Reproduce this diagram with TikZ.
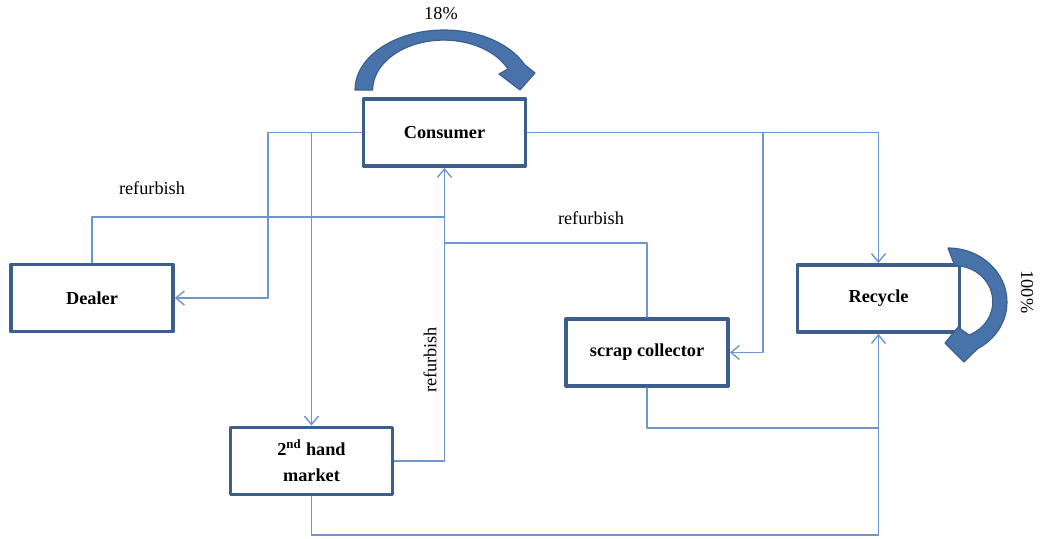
\documentclass[tikz,border=0pt]{standalone}
\usepackage{fontspec}
\setmainfont{Liberation Serif}
\usetikzlibrary{arrows.meta}
\definecolor{boxblue}{RGB}{59,94,140}
\definecolor{flowblue}{RGB}{110,150,205}
\definecolor{curlblue}{RGB}{72,114,170}

\begin{document}
\begin{tikzpicture}[line cap=round,line join=round,>={Straight Barb[length=6pt,width=10pt]},x=0.025cm,y=-0.025cm,
    stage/.style={draw=boxblue,line width=2.6pt,fill=white,minimum width=4.05cm,minimum height=1.68cm,
        font=\fontsize{13}{14}\selectfont\bfseries,align=center},
    flow/.style={color=flowblue,line width=1pt},
    curlarrow/.style={fill=curlblue,draw=boxblue,line width=0.8pt}]
    \useasboundingbox (0,0) rectangle (1042,539);
    % boxes
    \node[stage] (consumer) at (444.5,132.5) {Consumer};
    \node[stage] (dealer) at (92,298) {Dealer};
    \node[stage] (recycle) at (878.5,298.5) {Recycle};
    \node[stage] (scrap) at (647,352.5) {scrap collector};
    \node[stage] (market) at (311.5,461) {2\textsuperscript{nd} hand\\[5pt]market};
    % flows out of the consumer
    \draw[->,flow] (consumer.west) -| (268,298) -- (dealer.east);
    \draw[->,flow] (311.5,132.5) -- (market.north);
    \draw[->,flow] (consumer.east) -| (recycle.north);
    \draw[->,flow] (763,132.5) |- (scrap.east);
    % refurbish back to the consumer
    \draw[flow] (dealer.north) |- (444.5,217);
    \draw[flow] (scrap.north) |- (444.5,243);
    \draw[->,flow] (market.east) -| (consumer.south);
    % to recycle
    \draw[flow] (scrap.south) |- (878.5,428);
    \draw[->,flow] (market.south) |- (878.5,535) -- (recycle.south);
    % labels
    \node[font=\fontsize{13}{14}\selectfont] (lab1) at (152,188) {refurbish};
    \node[font=\fontsize{13}{14}\selectfont] (lab2) at (591,218) {refurbish};
    \node[font=\fontsize{13}{14}\selectfont,rotate=90] (lab3) at (430,360) {refurbish};
    \node[font=\fontsize{13}{14}\selectfont] (top) at (441,14) {18\%};
    \node[font=\fontsize{13}{14}\selectfont,rotate=-90] (right) at (1027,292) {100\%};
    % curved arrows
    \draw[curlarrow] (355,90) arc[start angle=180,end angle=335,x radius=89,y radius=60]
        -- (535,73) -- (520,90) -- (499,74) -- (508,69)
        arc[start angle=335,end angle=180,x radius=71,y radius=50] -- cycle;
    \draw[curlarrow] (948,248) arc[start angle=-90,end angle=60,x radius=59,y radius=54]
        -- (964,362) -- (945,343) -- (958,327) -- (969,335)
        arc[start angle=68,end angle=-90,x radius=38,y radius=36] -- cycle;
\end{tikzpicture}
\end{document}
